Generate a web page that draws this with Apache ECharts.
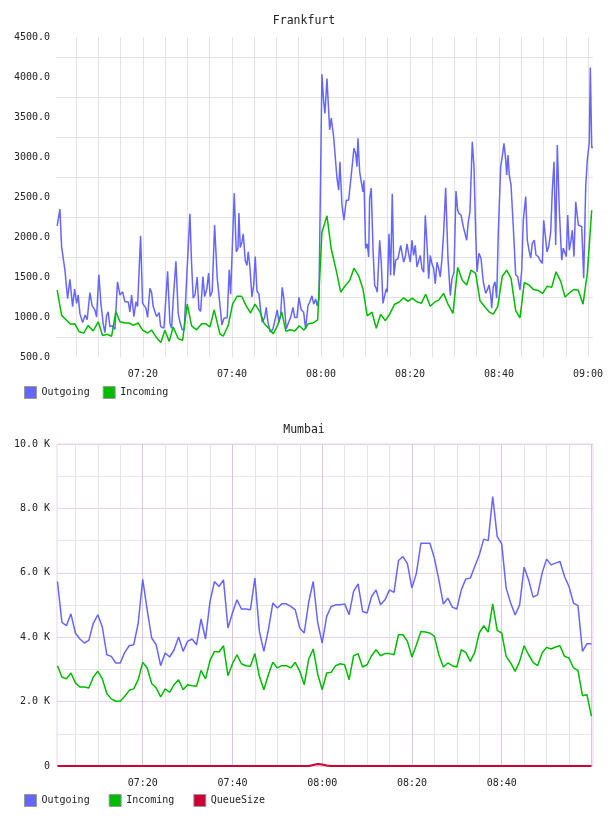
<!DOCTYPE html>
<html>
<head>
<meta charset="utf-8">
<script src="https://cdn.jsdelivr.net/npm/echarts@6/dist/echarts.min.js"></script>
<style>
  html, body { margin: 0; padding: 0; background: #fff; }
  #chart { width: 608px; height: 816px; }
</style>
</head>
<body>
<div id="chart"></div>
<script>
// times are minutes after 07:00
var frOutT = [0.74,1.35,1.73,2.47,3.08,3.6,4.2,4.65,5.1,5.46,
  5.84,6.45,7.03,7.48,8.09,8.6,9.2,9.6,10.1,10.56,
  11.08,11.46,11.84,12.2,12.58,13.1,13.7,14.3,14.83,15.44,
  15.96,16.34,16.7,17.08,17.46,17.98,18.43,18.8,19.48,19.93,
  20.29,20.67,21.06,21.57,21.96,22.31,22.7,23.08,23.66,23.98,
  24.34,24.72,25.55,26.07,26.45,26.81,27.42,27.93,28.31,28.83,
  29.28,29.82,30.56,30.94,31.3,31.69,32.2,32.58,32.97,33.48,
  33.87,34.38,34.76,35.12,35.57,36.11,36.7,37.24,37.75,38.2,
  38.94,39.39,39.71,
  40.52,40.97,41.35,41.57,41.87,42.25,42.54,42.99,43.37,43.66,
  44.04,44.49,44.88,45.24,45.62,46.07,46.45,46.81,47.35,47.71,
  48.09,48.61,49.21,49.73,50.18,50.56,50.94,51.3,51.69,52.2,
  52.74,53.19,53.71,54.09,54.61,55.06,55.57,56.11,56.56,57.08,
  57.46,57.98,58.36,58.81,59.17,59.55,
  60.22,60.61,60.9,61.35,61.96,62.31,62.85,63.21,63.6,63.98,
  64.27,64.72,65.17,65.69,66.22,66.81,67.42,67.8,68.09,68.31,
  68.7,69.06,69.44,69.66,70.04,70.4,70.72,70.94,71.3,71.69,
  72.07,72.43,72.65,73.19,73.55,73.93,74.31,74.67,74.9,75.28,
  75.66,76.02,76.4,76.79,77.3,77.91,78.27,78.58,78.94,79.33,
  79.71,80.07,80.45,80.83,81.19,81.57,81.96,82.31,82.7,83.08,
  83.44,83.82,84.2,84.56,84.94,85.33,85.69,86.07,86.45,86.81,
  87.19,87.57,88.02,88.54,89.06,89.44,89.89,
  90.34,90.72,91.01,91.46,91.98,92.36,92.74,93.1,93.48,94.0,
  94.38,94.76,95.06,95.51,95.96,96.47,97.01,97.37,97.75,98.13,
  98.36,98.72,99.1,99.48,99.84,100.38,100.74,101.12,101.51,101.73,
  102.02,102.31,102.7,103.21,103.75,104.2,104.72,105.1,105.46,106.0,
  106.36,106.74,107.12,107.48,107.93,108.31,108.83,109.21,109.73,110.04,
  110.4,110.79,111.17,111.62,111.98,112.36,112.74,113.1,113.55,114.09,
  114.45,114.83,115.12,115.44,115.8,116.18,116.47,116.85,117.24,117.53,
  117.82,118.2,118.58,119.03,119.48,119.84,120.29,120.52,120.83,121.12];
var frOutV = [2140,2350,1880,1590,1230,1470,1130,1350,1170,1275,
  1045,930,1025,965,1305,1140,1090,1000,1530,1170,
  915,805,1015,1065,880,890,845,1440,1275,1315,
  1190,1180,1190,1065,1275,1005,1190,1130,2015,1170,
  1190,1110,995,1360,1305,1130,1140,1005,1055,880,
  900,860,1570,920,860,1215,1695,1045,940,840,
  845,1470,2290,1665,1235,1275,1500,1100,1070,1505,
  1255,1355,1550,1255,1320,2150,1485,1190,900,985,
  990,1590,1285,
  2545,1815,1855,2300,1870,1935,2040,1710,1645,1815,
  1625,1250,1395,1755,1325,1285,1080,935,995,1120,
  935,810,850,975,1090,935,1015,1370,1225,850,
  935,995,1120,995,995,1245,1090,1060,850,1140,
  1185,1265,1160,1225,1140,1225,
  4035,3690,3545,3980,3340,3485,3255,3235,2735,2585,
  2940,2400,2210,2460,2460,2775,3110,3045,2880,3235,
  2815,2690,2565,2710,1855,1915,1750,2485,2610,1855,
  1395,1355,1310,1960,1685,1170,1170,1355,1310,2040,
  1520,2540,1520,1710,1730,1895,1915,1685,1750,1915,
  1790,1685,1960,1770,1895,1625,1645,1770,1605,1560,
  2270,1915,1480,1770,1665,1605,1415,1685,1605,1500,
  1730,2060,2615,1730,1270,1480,1560,
  2575,2335,2295,2275,2130,2150,1960,2190,2315,3190,
  2880,2045,1565,1795,1735,1440,1295,1335,1400,1275,
  1110,1380,1440,1235,2045,2880,3005,3170,2960,2775,
  3025,2775,2650,2130,1525,1505,1335,1585,2210,2505,
  1960,1835,1735,1920,1960,1775,1755,1710,1670,2210,
  2235,1815,1880,2065,2585,2940,1900,3150,2335,1710,
  1860,1835,1755,2275,1835,1960,2085,1755,2440,2440,
  2150,2150,2130,1485,2630,2960,3190,4120,3120,3120];

var frInT = [0.74,1.73,2.85,3.75,4.72,5.69,6.74,7.71,8.83,9.96,
  10.94,11.98,12.97,13.93,14.83,15.96,16.92,17.82,18.94,19.93,
  21.06,21.96,23.08,24.04,24.94,25.91,26.81,27.93,28.92,29.96,
  30.94,32.07,33.19,34.16,35.06,36.02,37.3,38.04,39.17,40.16,
  41.19,42.18,43.15,44.2,45.17,46.29,47.26,48.38,49.28,50.27,
  51.17,52.13,53.03,54.16,55.12,56.18,57.15,58.27,59.26,60.22,
  61.35,62.31,63.44,64.43,65.46,66.45,67.42,68.47,69.44,70.4,
  71.46,72.43,73.42,74.45,75.44,76.56,77.53,78.58,79.55,80.52,
  81.57,82.54,83.53,84.56,85.55,86.52,87.57,88.54,89.66,90.72,
  91.75,92.74,93.71,94.76,95.73,96.7,97.75,98.72,99.71,100.74,
  101.73,102.7,103.75,104.72,105.69,106.74,107.71,108.83,109.82,110.85,
  111.84,112.81,113.87,114.83,115.8,116.85,117.82,118.88,119.84,120.83];
var frInV = [1335,1020,960,910,915,815,800,895,825,940,
  770,785,760,1070,940,925,925,895,925,835,
  800,835,740,680,835,695,875,730,710,1160,
  890,840,915,915,875,1090,790,760,895,1165,
  1260,1260,1145,1050,1160,1065,915,855,790,895,
  1065,820,840,825,890,835,915,925,965,2060,
  2265,1850,1580,1310,1390,1455,1610,1515,1350,1015,
  1060,860,1035,955,1035,1160,1185,1240,1195,1235,
  1190,1170,1285,1135,1185,1215,1295,1160,1045,1620,
  1460,1400,1585,1545,1205,1135,1065,1035,1130,1510,
  1585,1485,1080,990,1430,1400,1345,1330,1295,1385,
  1370,1565,1445,1250,1300,1345,1335,1160,1545,2335];

// Mumbai: one sample per minute, 07:01 .. 09:00
var mbFirstMinute = 1;
var mbOutV = [5730,4460,4355,4725,4130,3945,3820,3900,4440,4695,
  4315,3455,3405,3200,3200,3530,3735,3765,4440,5800,
  4850,3975,3765,3115,3510,3385,3610,4005,3560,3870,
  3945,3765,4565,3945,5110,5730,5575,5780,4285,4750,
  5160,4875,4875,4850,5835,4180,3560,4230,5060,4905,
  5035,5035,4955,4850,4285,4130,5100,5730,4450,3820,
  4645,4955,5005,5005,5035,4700,5420,5655,4800,4750,
  5265,5470,5005,5160,5470,5390,6380,6505,6275,5525,
  5990,6920,6920,6920,6455,5780,5030,5215,4935,4875,
  5470,5805,5835,6195,6555,7045,7000,8365,7125,6900,
  5525,5060,4690,5005,6175,5780,5245,5315,5990,6425,
  6245,6300,6350,5885,5575,5060,4980,3560,3795,3795];
var mbInV = [3115,2765,2705,2890,2580,2455,2455,2425,2765,2940,
  2705,2250,2085,2010,2010,2165,2350,2395,2680,3220,
  3045,2560,2425,2145,2395,2290,2525,2680,2370,2525,
  2495,2475,2970,2705,3280,3560,3540,3735,2805,3175,
  3455,3175,3115,3095,3490,2785,2370,2835,3220,3045,
  3115,3115,3045,3220,2940,2525,3325,3635,2850,2370,
  2890,2910,3115,3175,3145,2680,3425,3490,3075,3145,
  3425,3610,3425,3490,3490,3455,4075,4075,3870,3385,
  3765,4180,4160,4130,4025,3455,3075,3200,3115,3075,
  3610,3530,3250,3530,4130,4355,4160,5035,4210,4130,
  3405,3200,2940,3250,3735,3455,3220,3115,3510,3685,
  3635,3695,3735,3405,3355,3045,2970,2185,2215,1545];
var mbQueueV = [0,0,0,0,0,0,0,0,0,0,
  0,0,0,0,0,0,0,0,0,0,
  0,0,0,0,0,0,0,0,0,0,
  0,0,0,0,0,0,0,0,0,0,
  0,0,0,0,0,0,0,0,0,0,
  0,0,0,0,0,0,0,30,60,45,
  15,0,0,0,0,0,0,0,0,0,
  0,0,0,0,0,0,0,0,0,0,
  0,0,0,0,0,0,0,0,0,0,
  0,0,0,0,0,0,0,0,0,0,
  0,0,0,0,0,0,0,0,0,0,
  0,0,0,0,0,0,0,0,0,0];

var gridMinutes = [5,10,15,20,25,30,35,40,45,50,55,60,65,70,75,80,85,90,95,100,105,110,115,120];
var majorMinutes = [20,40,60,80,100,120];
var frLabelMinutes = [20,40,60,80,100,120];
var mbLabelMinutes = [20,40,60,80,100];

var FONT = 'DejaVu Sans Mono';
var C_OUT = '#6666ff', C_IN = '#00bb00', C_Q = '#cc0033';

function pair(ts, vs) {
  var out = [];
  for (var i = 0; i < vs.length; i++) out.push([ts[i], vs[i]]);
  return out;
}
function hhmm(m) {
  var h = 7 + Math.floor(m / 60), mm = Math.round(m % 60);
  return (h < 10 ? '0' : '') + h + ':' + (mm < 10 ? '0' : '') + mm;
}
var mbT = mbOutV.map(function (v, i) { return mbFirstMinute + i; });
var minorMinutes = gridMinutes.filter(function (m) { return majorMinutes.indexOf(m) < 0; });

var lbl = { fontFamily: FONT, fontSize: 10, color: '#222' };

var myChart = echarts.init(document.getElementById('chart'));
var option = {
  animation: false,
  backgroundColor: '#fff',
  title: [
    { text: 'Frankfurt', left: 'center', top: 10, textStyle: { fontFamily: FONT, fontSize: 11.5, fontWeight: 'normal', color: '#222' } },
    { text: 'Mumbai', left: 'center', top: 419, textStyle: { fontFamily: FONT, fontSize: 11.5, fontWeight: 'normal', color: '#222' } }
  ],
  legend: [
    { data: ['Outgoing', 'Incoming'], left: 24, top: 386, padding: 0, icon: 'rect', itemWidth: 12, itemHeight: 12, itemGap: 13,
      itemStyle: { borderColor: '#999', borderWidth: 1 }, textStyle: lbl, selectedMode: false },
    { data: ['Outgoing', 'Incoming', 'QueueSize'], left: 24, top: 794, padding: 0, icon: 'rect', itemWidth: 12, itemHeight: 12, itemGap: 19,
      itemStyle: { borderColor: '#999', borderWidth: 1 }, textStyle: lbl, selectedMode: false }
  ],
  grid: [
    { left: 57, right: 15, top: 37, height: 320, show: false },
    { left: 57, right: 15, top: 444, height: 322, show: true, borderColor: '#ead6ea', borderWidth: 1, backgroundColor: 'transparent' }
  ],
  xAxis: [
    { type: 'value', gridIndex: 0, min: 0.7, max: 121.12,
      axisLine: { show: false }, axisTick: { show: false, customValues: gridMinutes },
      splitLine: { show: true, lineStyle: { color: '#e3e3e3', width: 1 } },
      axisLabel: Object.assign({ customValues: frLabelMinutes, margin: 12, formatter: hhmm }, lbl) },
    { type: 'value', gridIndex: 1, min: 0.9, max: 120.35, position: 'top',
      axisLine: { show: false }, axisTick: { show: false, customValues: minorMinutes },
      splitLine: { show: true, lineStyle: { color: '#e3e3e3', width: 1 } },
      axisLabel: { show: false } },
    { type: 'value', gridIndex: 1, min: 0.9, max: 120.35, position: 'bottom',
      axisLine: { show: false }, axisTick: { show: false, customValues: majorMinutes },
      splitLine: { show: true, lineStyle: { color: '#dcc4e0', width: 1 } },
      axisLabel: Object.assign({ customValues: mbLabelMinutes, margin: 12, formatter: hhmm }, lbl) }
  ],
  yAxis: [
    { type: 'value', gridIndex: 0, min: 500, max: 4500, interval: 500,
      axisLine: { show: false }, axisTick: { show: false },
      splitLine: { show: false },
      minorTick: { show: false, splitNumber: 2 },
      minorSplitLine: { show: true, lineStyle: { color: '#e3e3e3', width: 1 } },
      axisLabel: Object.assign({ margin: 7, formatter: function (v) { return v.toFixed(1); } }, lbl) },
    { type: 'value', gridIndex: 1, min: 0, max: 10000, interval: 2000,
      axisLine: { show: false }, axisTick: { show: false },
      splitLine: { show: true, lineStyle: { color: '#ead0ea', width: 1 } },
      minorTick: { show: false, splitNumber: 2 },
      minorSplitLine: { show: true, lineStyle: { color: '#e6e6e6', width: 1 } },
      axisLabel: Object.assign({ margin: 7, formatter: function (v) { return v === 0 ? '0' : (v / 1000).toFixed(1) + ' K'; } }, lbl) }
  ],
  series: [
    { name: 'Outgoing', type: 'line', xAxisIndex: 0, yAxisIndex: 0, data: pair(frOutT, frOutV),
      color: C_OUT, showSymbol: false, lineStyle: { width: 1.5 } },
    { name: 'Incoming', type: 'line', xAxisIndex: 0, yAxisIndex: 0, data: pair(frInT, frInV),
      color: C_IN, showSymbol: false, lineStyle: { width: 1.5 } },
    { name: 'Outgoing', type: 'line', xAxisIndex: 2, yAxisIndex: 1, data: pair(mbT, mbOutV),
      color: C_OUT, showSymbol: false, lineStyle: { width: 1.5 } },
    { name: 'Incoming', type: 'line', xAxisIndex: 2, yAxisIndex: 1, data: pair(mbT, mbInV),
      color: C_IN, showSymbol: false, lineStyle: { width: 1.5 } },
    { name: 'QueueSize', type: 'line', xAxisIndex: 2, yAxisIndex: 1, data: pair(mbT, mbQueueV),
      color: C_Q, showSymbol: false, lineStyle: { width: 2 } }
  ]
};
myChart.setOption(option);
</script>
</body>
</html>
